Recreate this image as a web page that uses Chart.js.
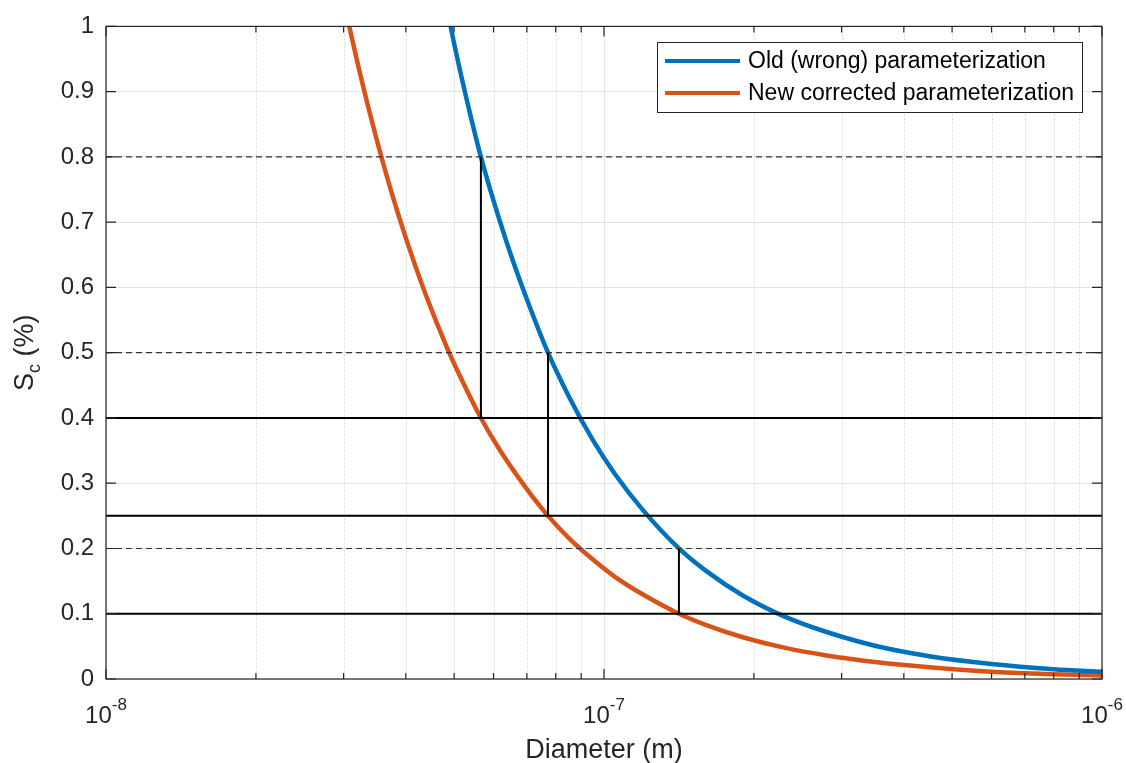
<!DOCTYPE html>
<html>
<head>
<meta charset="utf-8">
<script src="https://cdn.jsdelivr.net/npm/chart.js@4.4.1/dist/chart.umd.min.js"></script>
<style>
  html, body { margin: 0; padding: 0; background: #fff; }
  canvas { display: block; }
</style>
</head>
<body>
<canvas id="c" width="1126" height="763"></canvas>
<script>
// curvas (diâmetro em m, Sc em %)
const diamOld = [4.92e-8, 5e-8, 5.3e-8, 5.66e-8, 6e-8, 6.5e-8, 7e-8, 7.72e-8, 8.5e-8, 9.5e-8, 1.05e-7, 1.2e-7, 1.414e-7, 1.6e-7, 1.9e-7, 2.3e-7, 2.8e-7, 3.5e-7, 4.5e-7, 6e-7, 8e-7, 1e-6];
const scOld   = [1.0, 0.974, 0.888, 0.80, 0.733, 0.650, 0.582, 0.50, 0.433, 0.366, 0.315, 0.258, 0.200, 0.166, 0.128, 0.096, 0.072, 0.051, 0.035, 0.023, 0.015, 0.011];
const diamNew = [3.08e-8, 3.2e-8, 3.4e-8, 3.7e-8, 4e-8, 4.4e-8, 4.85e-8, 5.2e-8, 5.66e-8, 6.2e-8, 7e-8, 7.72e-8, 8.5e-8, 9.5e-8, 1.05e-7, 1.2e-7, 1.414e-7, 1.6e-7, 1.9e-7, 2.3e-7, 2.8e-7, 3.5e-7, 4.5e-7, 6e-7, 8e-7, 1e-6];
const scNew   = [1.0, 0.944, 0.862, 0.759, 0.676, 0.586, 0.506, 0.456, 0.40, 0.349, 0.291, 0.25, 0.216, 0.183, 0.157, 0.129, 0.100, 0.083, 0.064, 0.048, 0.036, 0.026, 0.018, 0.011, 0.0074, 0.0053];

// linhas de referência
const refSolid  = [0.4, 0.25, 0.1];
const refDashed = [0.8, 0.5, 0.2];
const dropDiam  = [5.66e-8, 7.72e-8, 1.414e-7];
const dropLow   = [0.4, 0.25, 0.1];
const dropHigh  = [0.8, 0.5, 0.2];

const seriesLabels = ['Old (wrong) parameterization', 'New corrected parameterization'];
const xDecades = [1e-8, 1e-7, 1e-6];
const xExp = ['-8', '-7', '-6'];
const minorMult = [2, 3, 4, 5, 6, 7, 8, 9];
const X_MIN = 1e-8, X_MAX = 1e-6;

const BLUE = '#0072BD', ORANGE = '#D95319', AX = '#262626';
const FONT = '"Liberation Sans", Arial, Helvetica, sans-serif';

const pts = (xs, ys) => xs.map((x, i) => ({ x, y: ys[i] }));

const datasets = [
  { label: seriesLabels[0], data: pts(diamOld, scOld), borderColor: BLUE, borderWidth: 4.5, order: 2, legend: true },
  { label: seriesLabels[1], data: pts(diamNew, scNew), borderColor: ORANGE, borderWidth: 4.5, order: 2, legend: true },
];
for (const v of refSolid)
  datasets.push({ data: [{ x: X_MIN, y: v }, { x: X_MAX, y: v }], borderColor: '#000', borderWidth: 2, order: 1 });
for (const v of refDashed)
  datasets.push({ data: [{ x: X_MIN, y: v }, { x: X_MAX, y: v }], borderColor: '#333', borderWidth: 1.2, borderDash: [6, 4], order: 1 });
dropDiam.forEach((d, i) =>
  datasets.push({ data: [{ x: d, y: dropLow[i] }, { x: d, y: dropHigh[i] }], borderColor: '#000', borderWidth: 2, order: 1 }));
datasets.forEach(ds => { ds.pointRadius = 0; ds.fill = false; ds.cubicInterpolationMode = 'monotone'; });

// grade do eixo x, moldura, marcas internas, textos e legenda
const estilo = {
  id: 'estilo',
  beforeDatasetsDraw(chart) {
    const { ctx, chartArea: a, scales: { x } } = chart;
    ctx.save();
    ctx.lineWidth = 1;
    ctx.strokeStyle = '#d9d9d9'; ctx.setLineDash([2, 2]);
    for (let e = 0; e < xDecades.length - 1; e++) {
      for (const m of minorMult) {
        const px = Math.round(x.getPixelForValue(xDecades[e] * m)) + 0.5;
        ctx.beginPath(); ctx.moveTo(px, a.top); ctx.lineTo(px, a.bottom); ctx.stroke();
      }
    }
    ctx.setLineDash([]);
    ctx.strokeStyle = '#e3e3e3';
    for (const d of xDecades) {
      const px = Math.round(x.getPixelForValue(d)) + 0.5;
      ctx.beginPath(); ctx.moveTo(px, a.top); ctx.lineTo(px, a.bottom); ctx.stroke();
    }
    ctx.restore();
  },
  afterDraw(chart) {
    const { ctx, chartArea: a, scales: { x, y } } = chart;
    ctx.save();
    // moldura
    ctx.strokeStyle = AX; ctx.lineWidth = 1.2;
    ctx.strokeRect(a.left, a.top, a.right - a.left, a.bottom - a.top);
    // marcas internas
    ctx.beginPath();
    y.ticks.forEach(t => {
      const py = y.getPixelForValue(t.value);
      ctx.moveTo(a.left, py); ctx.lineTo(a.left + 10, py);
      ctx.moveTo(a.right, py); ctx.lineTo(a.right - 10, py);
    });
    xDecades.forEach((d, e) => {
      const px = x.getPixelForValue(d);
      ctx.moveTo(px, a.bottom); ctx.lineTo(px, a.bottom - 10);
      ctx.moveTo(px, a.top); ctx.lineTo(px, a.top + 10);
      if (e < xDecades.length - 1) for (const m of minorMult) {
        const q = x.getPixelForValue(d * m);
        ctx.moveTo(q, a.bottom); ctx.lineTo(q, a.bottom - 6);
        ctx.moveTo(q, a.top); ctx.lineTo(q, a.top + 6);
      }
    });
    ctx.stroke();

    // rótulos do eixo x: 10 com expoente
    ctx.fillStyle = AX; ctx.textBaseline = 'alphabetic';
    xDecades.forEach((d, i) => {
      const px = x.getPixelForValue(d);
      ctx.font = '24px ' + FONT;
      const wb = ctx.measureText('10').width;
      ctx.font = '17px ' + FONT;
      const we = ctx.measureText(xExp[i]).width;
      const x0 = px - (wb + we) / 2;
      ctx.font = '24px ' + FONT; ctx.textAlign = 'left';
      ctx.fillText('10', x0, 723);
      ctx.font = '17px ' + FONT;
      ctx.fillText(xExp[i], x0 + wb, 710);
    });
    // título x
    ctx.font = '27px ' + FONT; ctx.textAlign = 'center';
    ctx.fillText('Diameter (m)', (a.left + a.right) / 2, 758);

    // título y: S_c (%)
    ctx.translate(33, (a.top + a.bottom) / 2);
    ctx.rotate(-Math.PI / 2);
    ctx.font = '27px ' + FONT;
    const wS = ctx.measureText('S').width;
    const wP = ctx.measureText(' (%)').width;
    ctx.font = '18px ' + FONT;
    const wc = ctx.measureText('c').width;
    const sx = -(wS + wc + wP) / 2;
    ctx.textAlign = 'left';
    ctx.font = '27px ' + FONT; ctx.fillText('S', sx, 0);
    ctx.font = '18px ' + FONT; ctx.fillText('c', sx + wS, 7);
    ctx.font = '27px ' + FONT; ctx.fillText(' (%)', sx + wS + wc, 0);
    ctx.restore();

    // legenda
    ctx.save();
    const lx = 657, ly = 42, lw = 425, lh = 70;
    ctx.fillStyle = '#fff'; ctx.fillRect(lx, ly, lw, lh);
    ctx.strokeStyle = AX; ctx.lineWidth = 1; ctx.strokeRect(lx + 0.5, ly + 0.5, lw, lh);
    ctx.font = '23px ' + FONT; ctx.textBaseline = 'middle'; ctx.textAlign = 'left';
    chart.data.datasets.filter(ds => ds.legend).forEach((ds, i) => {
      const yy = ly + 19 + i * 32;
      ctx.strokeStyle = ds.borderColor; ctx.lineWidth = 4;
      ctx.beginPath(); ctx.moveTo(lx + 8, yy); ctx.lineTo(lx + 83, yy); ctx.stroke();
      ctx.fillStyle = '#000'; ctx.fillText(ds.label, lx + 91, yy + 1);
    });
    ctx.restore();
  }
};

new Chart(document.getElementById('c'), {
  type: 'line',
  data: { datasets },
  options: {
    responsive: false,
    animation: false,
    layout: { padding: { left: 0, top: 22, right: 24, bottom: 0 } },
    plugins: { legend: { display: false }, tooltip: { enabled: false } },
    scales: {
      x: {
        type: 'logarithmic', min: X_MIN, max: X_MAX,
        ticks: { display: false },
        grid: { display: false },
        border: { display: false },
        afterFit: s => { s.height = 84; },
      },
      y: {
        min: 0, max: 1,
        ticks: {
          stepSize: 0.1, padding: 12, color: AX,
          font: { family: FONT, size: 24 },
          callback: v => String(Math.round(v * 10) / 10),
        },
        grid: { color: '#e3e3e3', lineWidth: 1, drawTicks: false },
        border: { display: false },
        afterFit: s => { s.width = 106; },
      },
    },
  },
  plugins: [estilo],
});
</script>
</body>
</html>
